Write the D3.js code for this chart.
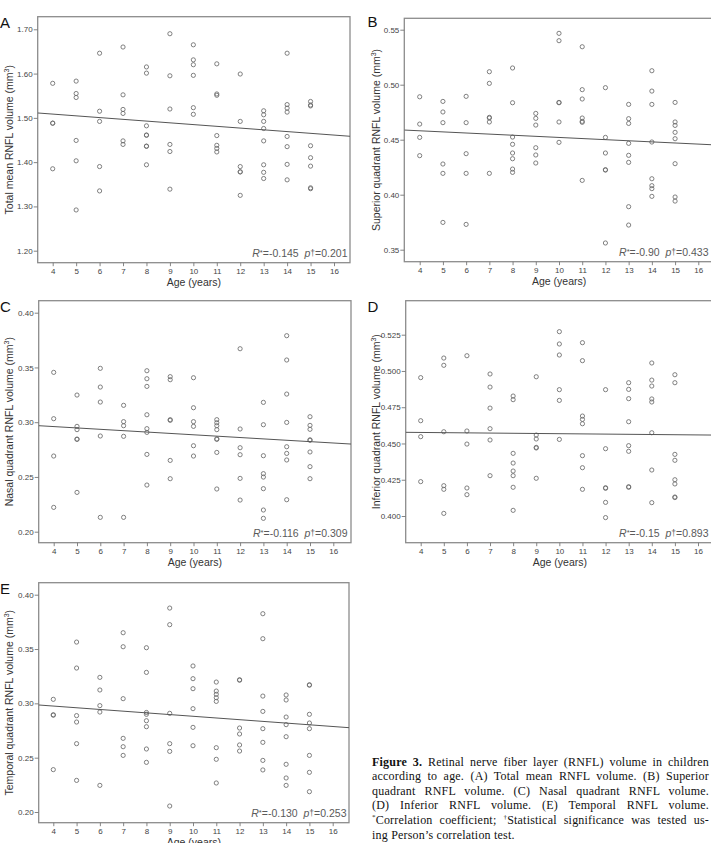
<!DOCTYPE html>
<html><head><meta charset="utf-8">
<script src="https://cdn.jsdelivr.net/npm/d3@7"></script>
<style>
html,body{margin:0;padding:0;background:#fff;}
svg{display:block;}
</style></head>
<body>
<svg id="c" width="711" height="843"></svg>
<script>
// ---------------- DATA ----------------
const ages = [4,5,6,7,8,9,10,11,12,13,14,15];
const xTicks = [4,5,6,7,8,9,10,11,12,13,14,15,16];

const totalMean = [
 [1.578,1.488,1.488,1.385],
 [1.583,1.555,1.546,1.449,1.403,1.292],
 [1.646,1.515,1.492,1.390,1.335],
 [1.660,1.552,1.519,1.510,1.448,1.440],
 [1.615,1.601,1.482,1.461,1.461,1.436,1.436,1.394],
 [1.690,1.595,1.520,1.440,1.424,1.339],
 [1.665,1.631,1.620,1.596,1.523,1.508],
 [1.622,1.554,1.551,1.460,1.438,1.431,1.423],
 [1.599,1.492,1.390,1.378,1.378,1.325],
 [1.516,1.507,1.492,1.476,1.448,1.394,1.377,1.363],
 [1.646,1.530,1.522,1.513,1.458,1.435,1.395,1.360],
 [1.537,1.529,1.527,1.437,1.410,1.391,1.342,1.340]
];
const superior = [
 [0.4890,0.4642,0.4521,0.4355],
 [0.4848,0.4752,0.4655,0.4279,0.4194,0.3748],
 [0.4894,0.4655,0.4373,0.4194,0.3730],
 [0.5118,0.5012,0.4703,0.4697,0.4661,0.4194],
 [0.5152,0.4836,0.4524,0.4458,0.4379,0.4327,0.4233,0.4203],
 [0.4739,0.4694,0.4633,0.4427,0.4361,0.4288],
 [0.5467,0.5400,0.4839,0.4836,0.4661,0.4476],
 [0.5345,0.4955,0.4870,0.4697,0.4667,0.4658,0.4130],
 [0.4973,0.4521,0.4379,0.4227,0.4224,0.3561],
 [0.4821,0.4691,0.4648,0.4467,0.4358,0.4294,0.3891,0.3724],
 [0.5127,0.4942,0.4821,0.4479,0.4145,0.4082,0.4055,0.3985],
 [0.4839,0.4661,0.4630,0.4567,0.4509,0.4282,0.3979,0.3942]
];
const nasal = [
 [0.3455,0.3032,0.2691,0.2222],
 [0.3248,0.2962,0.2932,0.2846,0.2843,0.2359],
 [0.3492,0.3321,0.3184,0.2874,0.2131],
 [0.3154,0.3005,0.2968,0.2871,0.2131],
 [0.3470,0.3397,0.3327,0.3068,0.2941,0.2907,0.2706,0.2426],
 [0.3416,0.3388,0.3023,0.3017,0.2651,0.2484],
 [0.3406,0.3132,0.3005,0.2962,0.2785,0.2691],
 [0.3023,0.2995,0.2968,0.2932,0.2848,0.2843,0.2724,0.2390],
 [0.3671,0.2938,0.2767,0.2703,0.2487,0.2289],
 [0.3181,0.2977,0.2694,0.2530,0.2499,0.2393,0.2198,0.2122],
 [0.3790,0.3568,0.3257,0.2998,0.2776,0.2715,0.2655,0.2292],
 [0.3050,0.2971,0.2935,0.2839,0.2835,0.2728,0.2594,0.2484]
];
const inferior = [
 [0.4954,0.4657,0.4547,0.4237],
 [0.5089,0.5039,0.4581,0.4209,0.4184,0.4018],
 [0.5105,0.4586,0.4496,0.4193,0.4147],
 [0.4979,0.4889,0.4744,0.4602,0.4524,0.4278],
 [0.4827,0.4802,0.4432,0.4365,0.4310,0.4278,0.4198,0.4039],
 [0.4960,0.4558,0.4531,0.4473,0.4469,0.4260],
 [0.5271,0.5186,0.5110,0.4871,0.4797,0.4528],
 [0.5195,0.5071,0.4689,0.4666,0.4636,0.4416,0.4333,0.4184],
 [0.4871,0.4464,0.4195,0.4191,0.4094,0.3989],
 [0.4919,0.4873,0.4809,0.4650,0.4485,0.4446,0.4202,0.4198],
 [0.5055,0.4937,0.4896,0.4807,0.4786,0.4574,0.4317,0.4092],
 [0.4974,0.4919,0.4425,0.4384,0.4250,0.4221,0.4131,0.4127]
];
const temporal = [
 [0.3037,0.2895,0.2891,0.2390],
 [0.3564,0.3325,0.2887,0.2828,0.2629,0.2291],
 [0.3239,0.3123,0.2979,0.2920,0.2245],
 [0.3650,0.3521,0.3043,0.2678,0.2601,0.2521],
 [0.3512,0.3285,0.2916,0.2899,0.2840,0.2785,0.2580,0.2457],
 [0.3877,0.3724,0.2908,0.2629,0.2558,0.2055],
 [0.3344,0.3227,0.3135,0.2951,0.2779,0.2610],
 [0.3196,0.3113,0.3083,0.3052,0.3018,0.2592,0.2485,0.2267],
 [0.3217,0.3213,0.2773,0.2718,0.2617,0.2561],
 [0.3825,0.3595,0.3067,0.2926,0.2767,0.2641,0.2475,0.2387],
 [0.3077,0.3031,0.2874,0.2804,0.2693,0.2439,0.2313,0.2245],
 [0.3171,0.3167,0.2899,0.2819,0.2767,0.2521,0.2365,0.2187]
];

// fitted regression line: value at age 4 and at age 16
const fitTotal = [1.5085, 1.4611];
const fitSuperior = [0.4581, 0.4460];
const fitNasal = [0.2960, 0.2810];
const fitInferior = [0.4576, 0.4559];
const fitTemporal = [0.2975, 0.2787];

const yTicksTotal = [1.20,1.30,1.40,1.50,1.60,1.70];
const yTicksSuperior = [0.35,0.40,0.45,0.50,0.55];
const yTicksNasal = [0.20,0.25,0.30,0.35,0.40];
const yTicksInferior = [0.400,0.425,0.450,0.475,0.500,0.525];
const yTicksTemporal = [0.20,0.25,0.30,0.35,0.40];

const letters = ["A","B","C","D","E"];
const yTitles = ["Total mean RNFL volume (mm","Superior quadrant RNFL volume (mm","Nasal quadrant RNFL volume (mm","Inferior quadrant RNFL volume (mm","Temporal quadrant RNFL volume (mm"];
const xTitle = "Age (years)";
const rValues = ["-0.145","-0.90","-0.116","-0.15","-0.130"];
const pValues = ["0.201","0.433","0.309","0.893","0.253"];

const captionLines = [
 "Retinal nerve fiber layer (RNFL) volume in children",
 "according to age. (A) Total mean RNFL volume. (B) Superior",
 "quadrant RNFL volume. (C) Nasal quadrant RNFL volume.",
 "(D) Inferior RNFL volume. (E) Temporal RNFL volume.",
 "Correlation coefficient; |Statistical significance was tested us-",
 "ing Person\u2019s correlation test."
];

// ---------------- LAYOUT ----------------
const layouts = [
 {left:37.7, top:16.7, right:350, bottom:262.7, x4:52.7, x16:334, yPx:[250.7,29.3], titleX:8.5, letterX:0, letterY:27.5, textRight:347.5},
 {left:404.3, top:18.3, right:714, bottom:261.7, x4:419.7, x16:698.3, yPx:[249.7,29.7], titleX:375.5, letterX:367.5, letterY:27, textRight:708.5},
 {left:38.7, top:300.7, right:351, bottom:542.7, x4:53.7, x16:333.3, yPx:[531.7,312.7], titleX:8.5, letterX:0, letterY:312, textRight:347.5},
 {left:405.7, top:300.7, right:714, bottom:542.7, x4:420.7, x16:698, yPx:[516,334.7], titleX:375.5, letterX:367.5, letterY:312, textRight:708.5},
 {left:38.7, top:582.7, right:349, bottom:822.7, x4:53.3, x16:332.7, yPx:[812,594.7], titleX:8.5, letterX:0, letterY:593.5, textRight:346.5}
];
const seriesList = [totalMean, superior, nasal, inferior, temporal];
const fits = [fitTotal, fitSuperior, fitNasal, fitInferior, fitTemporal];
const yTickList = [yTicksTotal, yTicksSuperior, yTicksNasal, yTicksInferior, yTicksTemporal];
const yFormats = [".2f",".2f",".2f",".3f",".2f"];

const svg = d3.select("#c");
svg.append("rect").attr("width",711).attr("height",843).attr("fill","#fff");

const SANS = "Liberation Sans, Arial, sans-serif";
const frameColor = "#8c8c8c";

layouts.forEach((L,i)=>{
  const g = svg.append("g");
  const yt = yTickList[i];
  const x = d3.scaleLinear().domain([4,16]).range([L.x4, L.x16]);
  const y = d3.scaleLinear().domain([yt[0], yt[yt.length-1]]).range(L.yPx);

  const cid = "clip"+i;
  svg.append("clipPath").attr("id",cid).append("rect")
    .attr("x",L.left).attr("y",L.top).attr("width",L.right-L.left).attr("height",L.bottom-L.top);

  g.append("rect").attr("x",L.left).attr("y",L.top)
    .attr("width",L.right-L.left).attr("height",L.bottom-L.top)
    .attr("fill","none").attr("stroke",frameColor).attr("stroke-width",1.3);

  const yAxis = d3.axisLeft(y).tickValues(yt).tickFormat(d3.format(yFormats[i])).tickSize(4).tickSizeOuter(0).tickPadding(1);
  const ya = g.append("g").attr("transform",`translate(${L.left},0)`).call(yAxis);
  const xAxis = d3.axisBottom(x).tickValues(xTicks).tickFormat(d3.format("d")).tickSize(3.5).tickSizeOuter(0).tickPadding(2.5);
  const xa = g.append("g").attr("transform",`translate(0,${L.bottom})`).call(xAxis);
  [ya,xa].forEach(a=>{
    a.select(".domain").remove();
    a.selectAll("line").attr("stroke","#777").attr("stroke-width",0.9);
    a.selectAll("text").attr("fill","#444").style("font-family",SANS).style("font-size","8px");
  });

  const pts = [];
  seriesList[i].forEach((vals,k)=>vals.forEach(v=>pts.push([ages[k],v])));
  g.append("g").selectAll("circle").data(pts).join("circle")
    .attr("cx",d=>x(d[0])).attr("cy",d=>y(d[1])).attr("r",2.1)
    .attr("fill","none").attr("stroke","#6a6a6a").attr("stroke-width",0.85);

  const f = fits[i];
  const line = d3.scaleLinear().domain([4,16]).range(f);
  const xl = x.invert(L.left), xr = x.invert(L.right);
  g.append("line").attr("clip-path",`url(#${cid})`)
    .attr("x1",x(xl)).attr("y1",y(line(xl)))
    .attr("x2",x(xr)).attr("y2",y(line(xr)))
    .attr("stroke","#555").attr("stroke-width",1);

  const t = g.append("text").attr("x",L.textRight).attr("y",L.bottom-5.5)
    .attr("text-anchor","end").style("font-family",SANS).style("font-size","10.5px")
    .attr("fill","#5a5a5a").style("white-space","pre");
  t.append("tspan").style("font-style","italic").text("R");
  t.append("tspan").style("font-size","7.5px").attr("dy",-2).text("*");
  t.append("tspan").attr("dy",2).text("=" + rValues[i] + "  ");
  t.append("tspan").style("font-style","italic").text("p");
  t.append("tspan").style("font-size","8.5px").attr("dy",-1).text("\u2020");
  t.append("tspan").attr("dy",1).text("=" + pValues[i]);

  const cy = (L.top+L.bottom)/2;
  const yt2 = g.append("text").attr("transform",`translate(${L.titleX+4},${cy}) rotate(-90)`)
    .attr("text-anchor","middle").style("font-family",SANS).style("font-size","10.5px").attr("fill","#333");
  yt2.append("tspan").text(yTitles[i]);
  yt2.append("tspan").style("font-size","7px").attr("dy",-4).text("3");
  yt2.append("tspan").attr("dy",4).text(")");

  g.append("text").attr("x",(L.left + (i%2===1 ? 714 : L.right))/2).attr("y",L.bottom+23.5)
    .attr("text-anchor","middle").style("font-family",SANS).style("font-size","10.5px").attr("fill","#333")
    .text(xTitle);

  g.append("text").attr("x",L.letterX).attr("y",L.letterY)
    .style("font-family",SANS).style("font-size","15px").attr("fill","#111").text(letters[i]);
});

// ---------------- CAPTION ----------------
const capX = 372, capRight = 709, capY0 = 765.5, capDy = 14.6;
const cap = svg.append("g").style("font-family","Liberation Serif, Times New Roman, serif").style("font-size","12px").attr("fill","#111");
captionLines.forEach((s,i)=>{
  const t = cap.append("text").attr("x",capX).attr("y",capY0+i*capDy).style("letter-spacing","0.2px");
  if(i===0){
    t.append("tspan").style("font-weight","bold").text("Figure 3. ");
    t.append("tspan").text(s);
  } else if(i===4){
    const parts = s.split("|");
    t.append("tspan").style("font-size","7px").attr("dy",-5).text("*");
    t.append("tspan").attr("dy",5).text(parts[0]);
    t.append("tspan").style("font-size","7px").attr("dy",-5).text("\u2020");
    t.append("tspan").attr("dy",5).text(parts[1]);
  } else {
    t.text(s);
  }
  if(i<captionLines.length-1){
    const w = t.node().getComputedTextLength();
    const full = t.text();
    const gaps = (full.match(/ /g)||[]).length;
    if(gaps>0){
      const ws = (capRight-capX - w)/gaps;
      t.style("word-spacing", ws+"px");
    }
  }
});
</script>
</body></html>
